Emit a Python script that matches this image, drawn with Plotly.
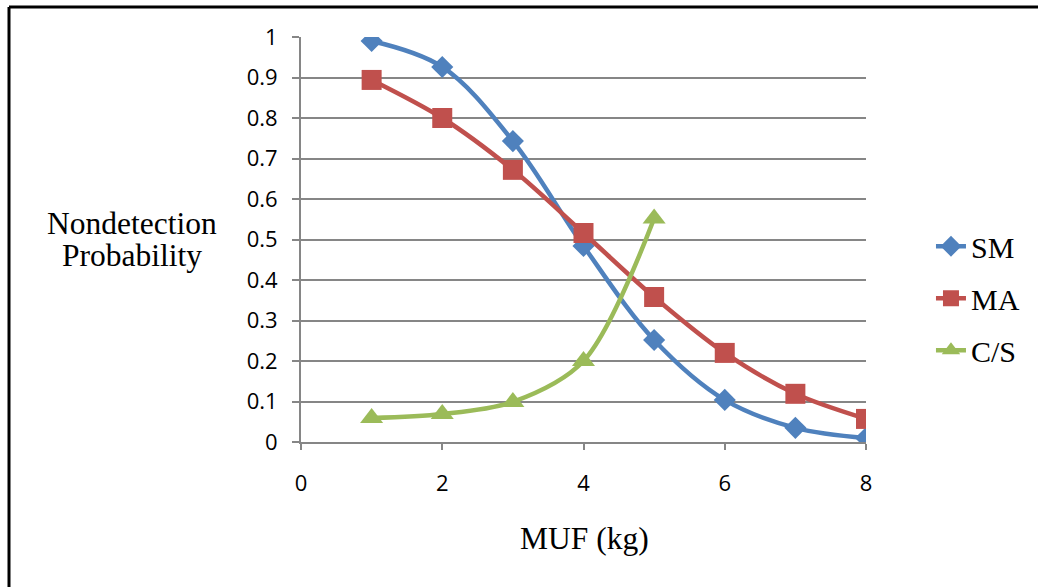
import plotly.graph_objects as go

muf = [1, 2, 3, 4, 5, 6, 7, 8]
sm = [0.990, 0.926, 0.743, 0.484, 0.252, 0.104, 0.035, 0.010]
ma = [0.894, 0.800, 0.672, 0.516, 0.358, 0.220, 0.119, 0.057]
cs_x = [1, 2, 3, 4, 5]
cs = [0.059, 0.069, 0.099, 0.200, 0.552]

y_ticks = [0, 0.1, 0.2, 0.3, 0.4, 0.5, 0.6, 0.7, 0.8, 0.9, 1]
y_tick_text = ["0", "0.1", "0.2", "0.3", "0.4", "0.5", "0.6", "0.7", "0.8", "0.9", "1"]
x_ticks = [0, 2, 4, 6, 8]

BLUE = "#4F81BD"
RED = "#C0504D"
GREEN = "#9BBB59"
GRID = "#868686"
SERIF = "Liberation Serif, Times New Roman, serif"
SANS = "Open Sans, sans-serif"

fig = go.Figure()
fig.add_trace(go.Scatter(x=muf, y=sm, name="SM", mode="lines+markers", legendgroup="a",
                         line=dict(color=BLUE, width=4.5, shape="spline", smoothing=1.0),
                         marker=dict(symbol="diamond", size=17, color=BLUE)))
fig.add_trace(go.Scatter(x=muf, y=ma, name="MA", mode="lines+markers", legendgroup="b",
                         line=dict(color=RED, width=4.5, shape="spline", smoothing=0.9),
                         marker=dict(symbol="square", size=20, color=RED)))
fig.add_trace(go.Scatter(x=cs_x, y=cs, name="C/S", mode="lines+markers", legendgroup="c",
                         line=dict(color=GREEN, width=4.5, shape="spline", smoothing=0.9),
                         marker=dict(symbol="triangle-up", size=20, color=GREEN)))

fig.update_layout(
    width=1038, height=587,
    margin=dict(l=301, r=172, t=37, b=145),
    paper_bgcolor="white", plot_bgcolor="white",
    showlegend=True,
    legend=dict(x=1.115, y=0.355, xanchor="left", yanchor="middle",
                font=dict(family=SERIF, size=30, color="black"),
                tracegroupgap=10, bgcolor="rgba(0,0,0,0)"),
    xaxis=dict(range=[0, 8], tickvals=x_ticks, showgrid=False, zeroline=False,
               showline=True, linecolor=GRID, linewidth=2,
               ticks="outside", ticklen=6, tickcolor=GRID, tickwidth=2,
               tickfont=dict(family=SANS, size=22, color="black"),
               ticklabelstandoff=15),
    yaxis=dict(range=[0, 1], tickvals=y_ticks, ticktext=y_tick_text,
               showgrid=True, gridcolor=GRID, gridwidth=2, zeroline=False,
               showline=True, linecolor=GRID, linewidth=2,
               ticks="outside", ticklen=7, tickcolor=GRID, tickwidth=2,
               tickfont=dict(family=SANS, size=22, color="black"),
               ticklabelstandoff=10),
    annotations=[
        dict(text="Nondetection", xref="paper", yref="paper",
             x=(132 - 301) / 565, y=(442 - 223) / 405, xanchor="center", yanchor="middle",
             showarrow=False, font=dict(family=SERIF, size=31.5, color="black")),
        dict(text="Probability", xref="paper", yref="paper",
             x=(132 - 301) / 565, y=(442 - 255) / 405, xanchor="center", yanchor="middle",
             showarrow=False, font=dict(family=SERIF, size=31.5, color="black")),
        dict(text="MUF (kg)", xref="paper", yref="paper",
             x=(584 - 301) / 565, y=(442 - 538) / 405, xanchor="center", yanchor="middle",
             showarrow=False, font=dict(family=SERIF, size=31.5, color="black")),
    ],
    shapes=[
        dict(type="line", xref="paper", yref="paper",
             x0=(9 - 301) / 565, x1=(1040 - 301) / 565,
             y0=(442 - 7) / 405, y1=(442 - 7) / 405,
             line=dict(color="black", width=3)),
        dict(type="line", xref="paper", yref="paper",
             x0=(9 - 301) / 565, x1=(9 - 301) / 565,
             y0=(442 - 7) / 405, y1=(442 - 590) / 405,
             line=dict(color="black", width=3)),
    ],
)

fig.write_html("out.html")
